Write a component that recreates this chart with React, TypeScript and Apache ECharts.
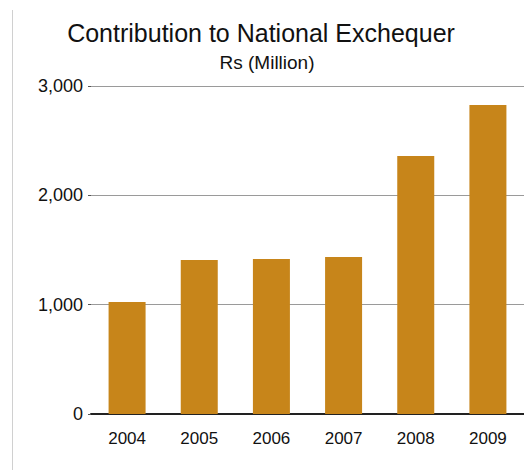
import React, { useEffect, useRef } from "react";
import * as echarts from "echarts";

const categories = ["2004", "2005", "2006", "2007", "2008", "2009"];
const values = [1025, 1409, 1418, 1436, 2360, 2827];
const yTicks = [0, 1000, 2000, 3000];

export default function App() {
  const ref = useRef<HTMLDivElement>(null);
  useEffect(() => {
    if (!ref.current) return;
    const chart = echarts.init(ref.current, null, { renderer: "svg" });
    const font = "Liberation Sans, Arial, Helvetica, sans-serif";
    chart.setOption({
      animation: false,
      backgroundColor: "#ffffff",
      title: [
        {
          text: "Contribution to National Exchequer",
          left: 256,
          top: 15,
          textAlign: "center",
          textStyle: { fontFamily: font, fontSize: 25, fontWeight: "normal", color: "#111" },
        },
        {
          text: "Rs (Million)",
          left: 262,
          top: 48,
          textAlign: "center",
          textStyle: { fontFamily: font, fontSize: 19, fontWeight: "normal", color: "#111" },
        },
      ],
      graphic: [
        {
          type: "line",
          shape: { x1: 12.5, y1: 10, x2: 12.5, y2: 470 },
          style: { stroke: "#d0d0d0", lineWidth: 1 },
        },
      ],
      grid: { left: 91, top: 86, width: 438, height: 328 },
      xAxis: {
        type: "category",
        data: categories,
        axisLine: { lineStyle: { color: "#222", width: 2 } },
        axisTick: { show: false },
        axisLabel: { fontFamily: font, fontSize: 17, color: "#111", margin: 16 },
      },
      yAxis: {
        type: "value",
        min: yTicks[0],
        max: yTicks[yTicks.length - 1],
        interval: 1000,
        axisLine: { show: false },
        axisTick: { show: true, length: 3, lineStyle: { color: "#555" } },
        splitLine: { lineStyle: { color: "#9a9a9a", width: 1 } },
        axisLabel: {
          fontFamily: font,
          fontSize: 18,
          color: "#111",
          margin: 8,
          formatter: (v: number) => v.toLocaleString("en-US"),
        },
      },
      series: [
        {
          type: "bar",
          data: values,
          barWidth: 37,
          itemStyle: { color: "#C7851A" },
        },
      ],
    });
    return () => chart.dispose();
  }, []);
  return (
    <div
      ref={ref}
      style={{ position: "fixed", left: 0, top: 0, width: 524, height: 470 }}
    />
  );
}
